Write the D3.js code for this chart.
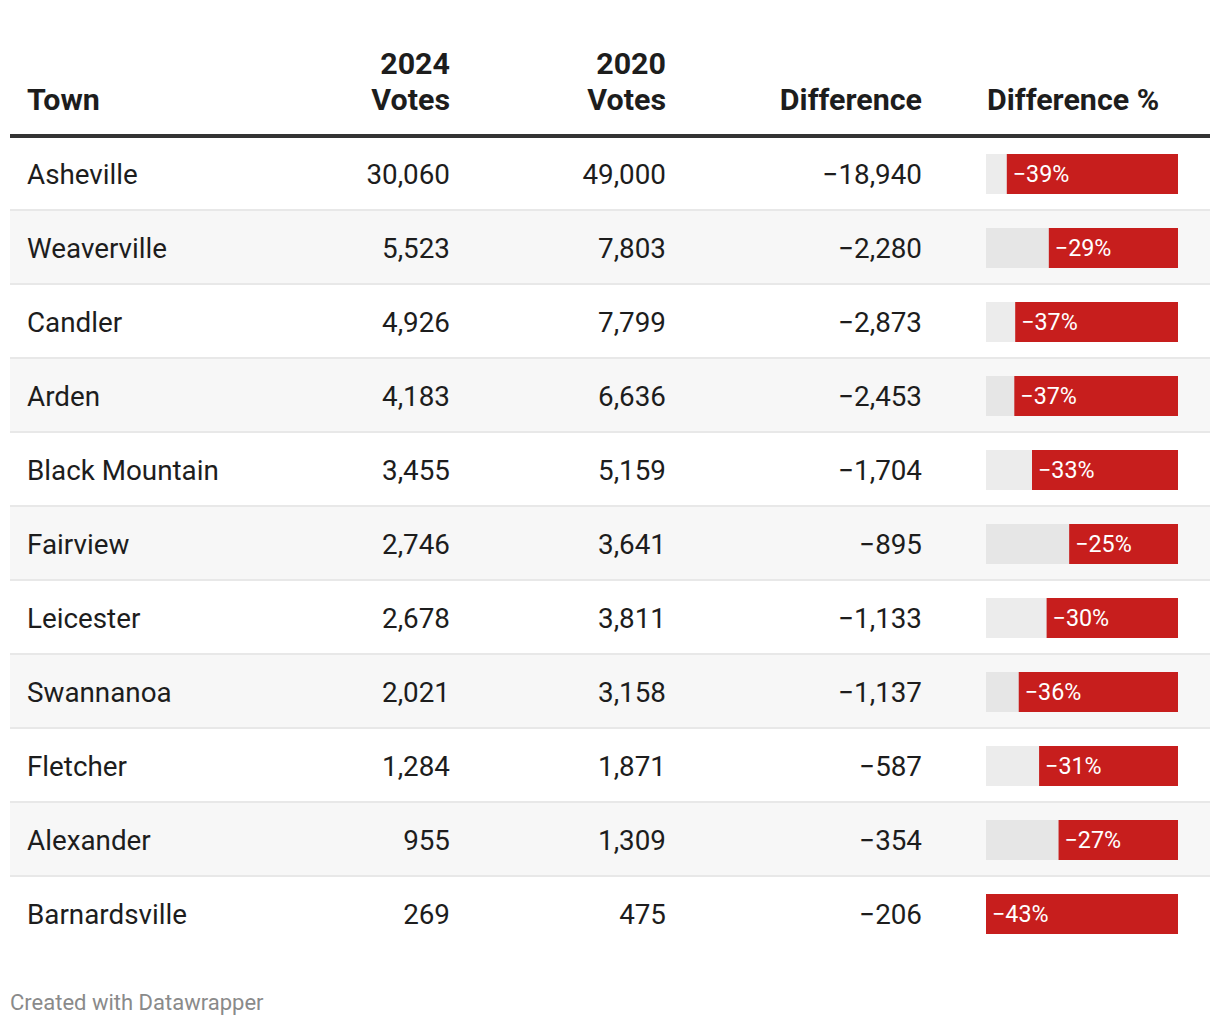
<!DOCTYPE html>
<html><head><meta charset="utf-8">
<script src="https://cdn.jsdelivr.net/npm/d3@7"></script>
<style>
html,body{margin:0;padding:0;background:#fff;}
svg{display:block;font-family:Roboto,"Noto Sans",sans-serif;}
</style></head>
<body>
<svg id="chart" width="1220" height="1026"></svg>
<script>
const towns = ["Asheville","Weaverville","Candler","Arden","Black Mountain","Fairview","Leicester","Swannanoa","Fletcher","Alexander","Barnardsville"];
const votes2024 = [30060,5523,4926,4183,3455,2746,2678,2021,1284,955,269];
const votes2020 = [49000,7803,7799,6636,5159,3641,3811,3158,1871,1309,475];
const difference = [-18940,-2280,-2873,-2453,-1704,-895,-1133,-1137,-587,-354,-206];
const diffPct = [-38.7,-29.2,-36.8,-37.0,-33.0,-24.6,-29.7,-36.0,-31.4,-27.0,-43.4];
const headers = [["Town"],["2024","Votes"],["2020","Votes"],["Difference"],["Difference %"]];

const svg = d3.select("#chart");
const left = 10, right = 1210;
const rowTop = 137, rowH = 74;
const y = d3.scaleBand().domain(d3.range(towns.length)).range([rowTop, rowTop + rowH*towns.length]).padding(0);
const barX0 = 986, barW = 192, barH = 40;
const x = d3.scaleLinear().domain([0, d3.max(diffPct, d => Math.abs(d))]).range([0, barW]);
const fmt = d3.format(",");
const fmtNum = v => fmt(v).replace("-", "\u2212");

const rows = svg.selectAll("g.row").data(towns).join("g").attr("class","row")
  .attr("transform", (d,i) => `translate(0,${y(i)})`);
rows.append("rect").attr("x", left).attr("width", right-left).attr("height", rowH)
  .attr("fill", (d,i) => i%2 ? "#f7f7f7" : "#ffffff");
rows.filter((d,i) => i < towns.length-1).append("rect").attr("x", left).attr("y", rowH-2).attr("width", right-left).attr("height", 2).attr("fill", "#e8e8e8");

const cy = rowH/2 + 10;
const fs = 27.8;
rows.append("text").attr("x", 27).attr("y", cy).attr("font-size", fs).attr("fill", "#1d1d1d").text(d => d);
rows.append("text").attr("x", 450).attr("y", cy).attr("text-anchor","end").attr("font-size", fs).attr("fill", "#1d1d1d").text((d,i) => fmtNum(votes2024[i]));
rows.append("text").attr("x", 666).attr("y", cy).attr("text-anchor","end").attr("font-size", fs).attr("fill", "#1d1d1d").text((d,i) => fmtNum(votes2020[i]));
rows.append("text").attr("x", 922).attr("y", cy).attr("text-anchor","end").attr("font-size", fs).attr("fill", "#1d1d1d").text((d,i) => fmtNum(difference[i]));

const by = (rowH - barH)/2;
rows.append("rect").attr("x", barX0).attr("y", by).attr("width", barW).attr("height", barH)
  .attr("fill", (d,i) => i%2 ? "#e6e6e6" : "#ececec");
rows.append("rect").attr("x", (d,i) => barX0 + barW - x(Math.abs(diffPct[i]))).attr("y", by)
  .attr("width", (d,i) => x(Math.abs(diffPct[i]))).attr("height", barH).attr("fill", "#c71e1d");
rows.append("text").attr("x", (d,i) => barX0 + barW - x(Math.abs(diffPct[i])) + 6).attr("y", by + barH/2 + 8)
  .attr("font-size", 23.3).attr("fill", "#ffffff")
  .text((d,i) => "\u2212" + Math.round(Math.abs(diffPct[i])) + "%");

const hx = [27, 450, 666, 922, 987];
const anchors = ["start","end","end","end","start"];
headers.forEach((h,j) => {
  const t = svg.append("text").attr("x", hx[j]).attr("text-anchor", anchors[j])
    .attr("font-size", 30.4).attr("font-weight", 700).attr("fill", "#1d1d1d");
  h.forEach((line, k) => {
    t.append("tspan").attr("x", hx[j]).attr("y", 110 - (h.length-1-k)*36).text(line);
  });
});
svg.append("rect").attr("x", left).attr("y", 134).attr("width", right-left).attr("height", 4).attr("fill", "#333333");

svg.append("text").attr("x", 10).attr("y", 1010).attr("font-size", 22).attr("fill", "#8a8a8a").text("Created with Datawrapper");
</script>
</body></html>
